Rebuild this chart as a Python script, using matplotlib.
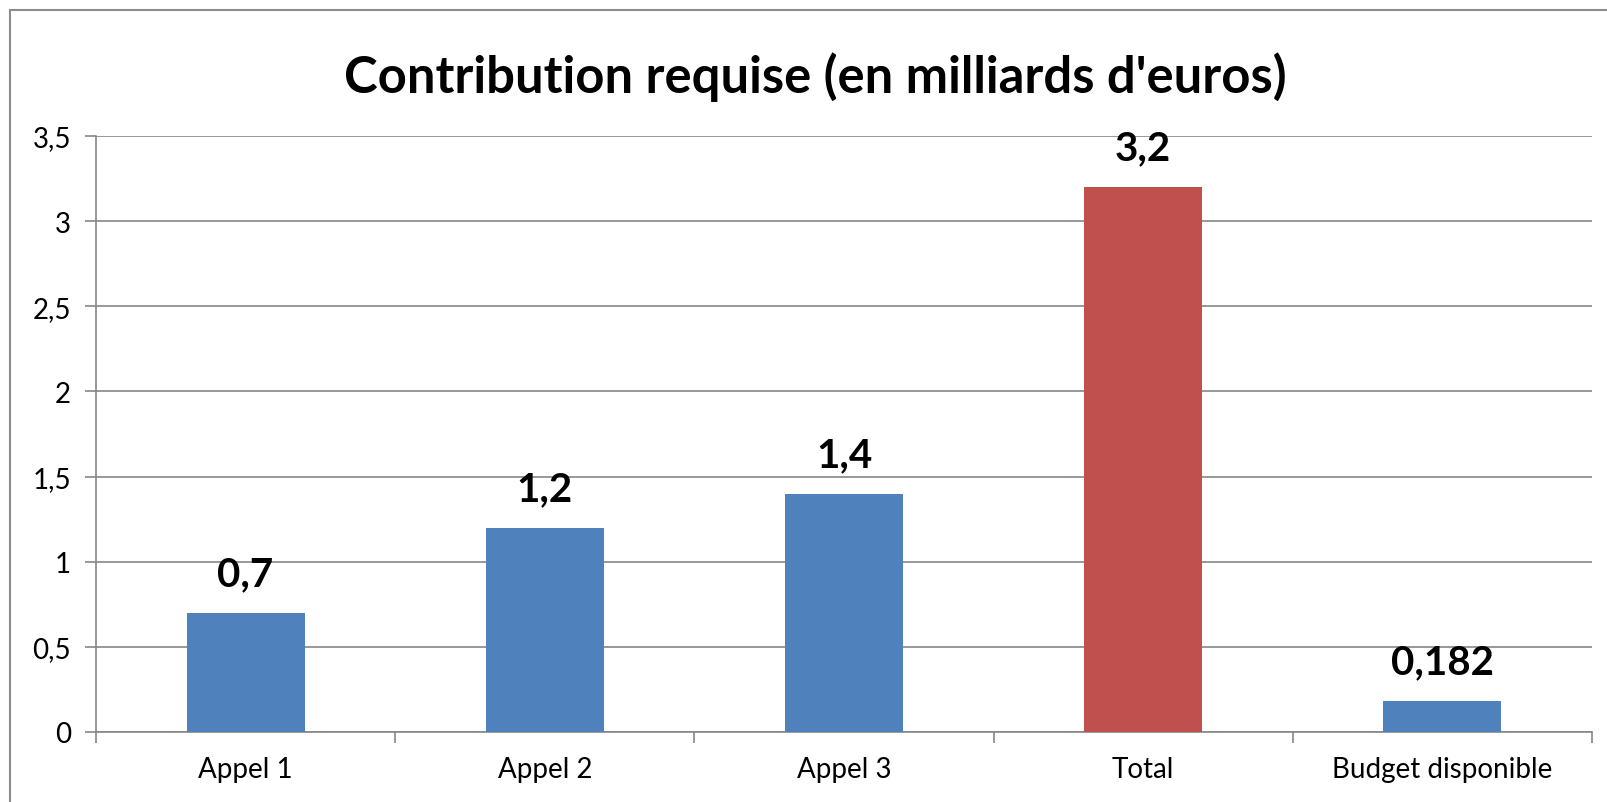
import matplotlib.pyplot as plt
import numpy as np
from matplotlib.patches import Rectangle

categories = ['Appel 1', 'Appel 2', 'Appel 3', 'Total', 'Budget disponible']
values = [0.7, 1.2, 1.4, 3.2, 0.182]
value_labels = ['0,7', '1,2', '1,4', '3,2', '0,182']
bar_colors = ['#4F81BD', '#4F81BD', '#4F81BD', '#C0504D', '#4F81BD']
yticks = [0, 0.5, 1, 1.5, 2, 2.5, 3, 3.5]
ytick_labels = ['0', '0,5', '1', '1,5', '2', '2,5', '3', '3,5']

plt.rcParams['font.family'] = ['Lato', 'DejaVu Sans']

fig = plt.figure(figsize=(16.08, 8.03), dpi=100)
ax = fig.add_axes([96/1608, 1 - 733/803, (1592 - 96)/1608, (733 - 137)/803])

# outer chart border
fig.patches.append(Rectangle((10/1608, -0.01), 1.1, 1 - 11/803 + 0.01,
                             transform=fig.transFigure, fill=False,
                             edgecolor='#8c8c8c', linewidth=1.5))

x = np.arange(len(categories))
ax.bar(x, values, width=0.395, color=bar_colors, zorder=3)
ax.set_xlim(-0.5, len(categories) - 0.5)
ax.set_ylim(0, 3.5)

for xi, v, lab in zip(x, values, value_labels):
    ax.annotate(lab, (xi, v), xytext=(0, 20), textcoords='offset points',
                ha='center', va='baseline', fontsize=29, fontweight='bold')

ax.set_yticks(yticks)
ax.set_yticklabels(ytick_labels, fontsize=20)
ax.set_xticks(x)
ax.set_xticklabels(categories, fontsize=20)
ax.set_xticks(np.arange(-0.5, len(categories)), minor=True)
ax.tick_params(axis='x', which='major', length=0, pad=17)
ax.tick_params(axis='x', which='minor', length=8, color='#868686', width=1.2)
ax.tick_params(axis='y', length=8, color='#868686', width=1.2, pad=10)

ax.grid(axis='y', color='#868686', linewidth=1.2, zorder=0)
for s in ['top', 'right']:
    ax.spines[s].set_visible(False)
for s in ['left', 'bottom']:
    ax.spines[s].set_color('#868686')
    ax.spines[s].set_linewidth(1.2)

fig.text(0.507, 1 - 77/803, "Contribution requise (en milliards d'euros)",
         ha='center', va='center', fontsize=36.5, fontweight='bold')

fig.savefig('out.png', dpi=100)
